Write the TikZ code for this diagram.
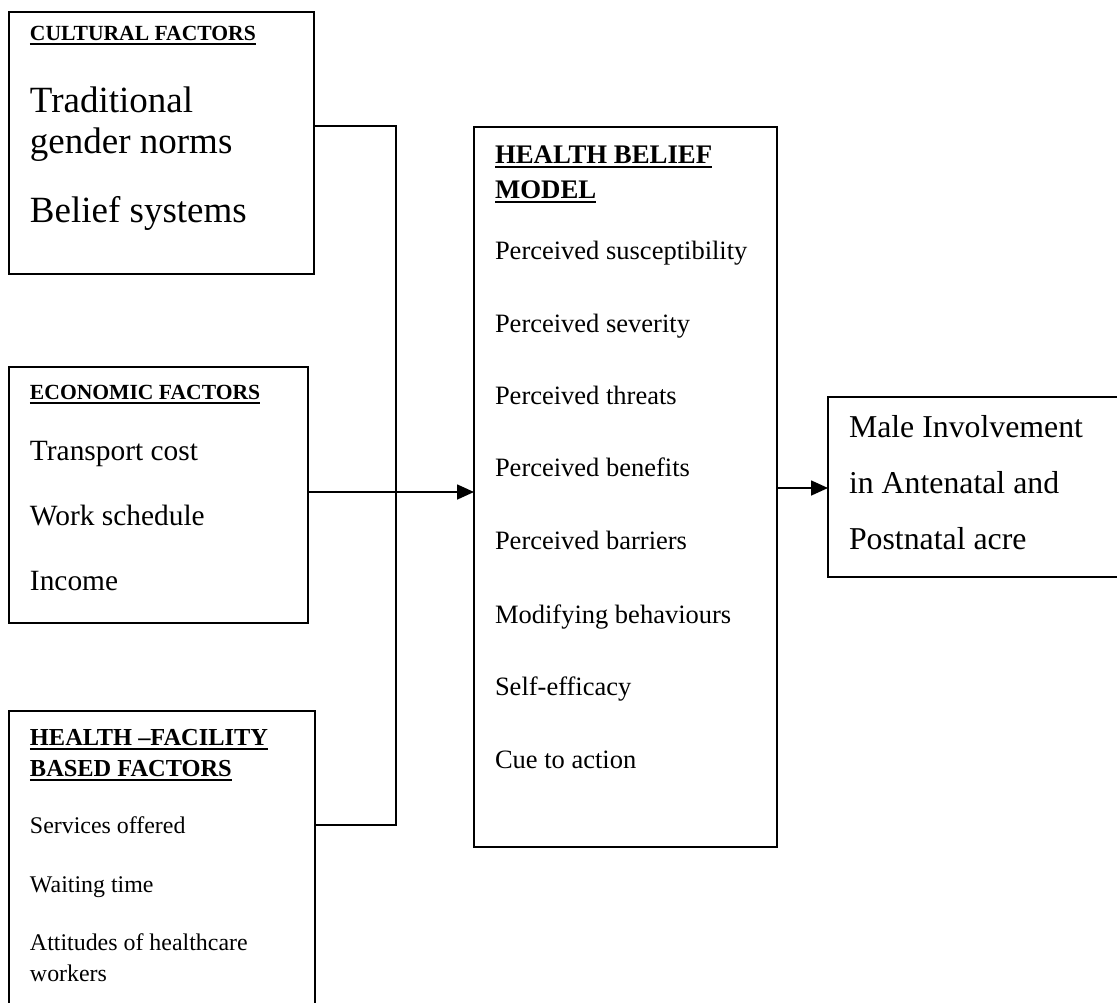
\documentclass[tikz,border=0pt]{standalone}
\usepackage{fontspec}
\setmainfont{Liberation Serif}
\usetikzlibrary{arrows.meta}
\newcommand\hdul[1]{\setbox0\hbox{#1}\leavevmode\rlap{\vrule height -2.5pt depth 4.8pt width \wd0}\box0}
\begin{document}
\begin{tikzpicture}[x=1pt,y=-1pt,
 box/.style={draw, line width=1.7pt, inner sep=0pt, outer sep=0pt, anchor=north west},
 txt/.style={anchor=base west, inner sep=0pt, outer sep=0pt},
 hsm/.style={txt, font=\fontsize{21.6}{25}\selectfont\bfseries},
 hmd/.style={txt, font=\fontsize{26.8}{30}\selectfont\bfseries},
 hfh/.style={txt, font=\fontsize{24.4}{28}\selectfont\bfseries},
 ctxt/.style={txt, font=\fontsize{37}{42}\selectfont},
 etxt/.style={txt, font=\fontsize{29.4}{34}\selectfont},
 ftxt/.style={txt, font=\fontsize{23.9}{28}\selectfont},
 btxt/.style={txt, font=\fontsize{26.5}{30}\selectfont},
 otxt/.style={txt, font=\fontsize{31.8}{36}\selectfont},
 link/.style={line width=1.7pt},
 arr/.style={line width=1.7pt, -{Triangle[length=17pt,width=15pt]}}]
\useasboundingbox (0,0) rectangle (1117,1002);
\clip (0,0) rectangle (1117,1002);
\fill[white] (0,0) rectangle (1117,1002);

% boxes
\node[box, minimum width=305pt, minimum height=262pt] (cult) at (9,12) {};
\node[box, minimum width=299pt, minimum height=256pt] (eco) at (9,367) {};
\node[box, minimum width=306pt, minimum height=320pt] (hf) at (9,711) {};
\node[box, minimum width=303pt, minimum height=720pt] (hbm) at (474,127) {};
\node[box, minimum width=310pt, minimum height=180pt] (out) at (828,397) {};

% cultural
\node[hsm] (c0) at (30,40) {\hdul{CULTURAL FACTORS}};
\node[ctxt] (c1) at (30,112) {Traditional};
\node[ctxt] (c2) at (30,153) {gender norms};
\node[ctxt] (c3) at (30,222) {Belief systems};

% economic
\node[hsm] (e0) at (30,399) {\hdul{ECONOMIC FACTORS}};
\node[etxt] (e1t) at (30,460) {Transport cost};
\node[etxt] (e2t) at (30,525) {Work schedule};
\node[etxt] (e3t) at (30,590) {Income};

% health facility
\node[hfh] (f0) at (30,745) {\hdul{HEALTH –FACILITY}};
\node[hfh] (f0b) at (30,776) {\hdul{BASED FACTORS}};
\node[ftxt] (f1) at (30,833) {Services offered};
\node[ftxt] (f2) at (30,892) {Waiting time};
\node[ftxt] (f3) at (30,950) {Attitudes of healthcare};
\node[ftxt] (f3b) at (30,981) {workers};

% health belief model
\node[hmd] (h0) at (495,163) {\hdul{HEALTH BELIEF}};
\node[hmd] (h0b) at (495,198) {\hdul{MODEL}};
\node[btxt] (h1) at (495,259) {Perceived susceptibility};
\node[btxt] (h2) at (495,332) {Perceived severity};
\node[btxt] (h3) at (495,404) {Perceived threats};
\node[btxt] (h4) at (495,476) {Perceived benefits};
\node[btxt] (h5) at (495,549) {Perceived barriers};
\node[btxt] (h6) at (495,623) {Modifying behaviours};
\node[btxt] (h7) at (495,695) {Self-efficacy};
\node[btxt] (h8) at (495,768) {Cue to action};

% outcome
\node[otxt] (o1t) at (849,437) {Male Involvement};
\node[otxt] (o2t) at (849,493) {in Antenatal and};
\node[otxt] (o3t) at (849,549) {Postnatal acre};

% connectors
\coordinate (j1) at (396,126);
\coordinate (j2) at (396,825);
\draw[link] (cult.east |- j1) -- (j1) -- (j2) -- (hf.east |- j2);
\coordinate (ey) at (0,492);
\draw[arr] (eco.east |- ey) -- (hbm.west |- ey);
\coordinate (oy) at (0,488);
\draw[arr] (hbm.east |- oy) -- (out.west |- oy);
\end{tikzpicture}
\end{document}
